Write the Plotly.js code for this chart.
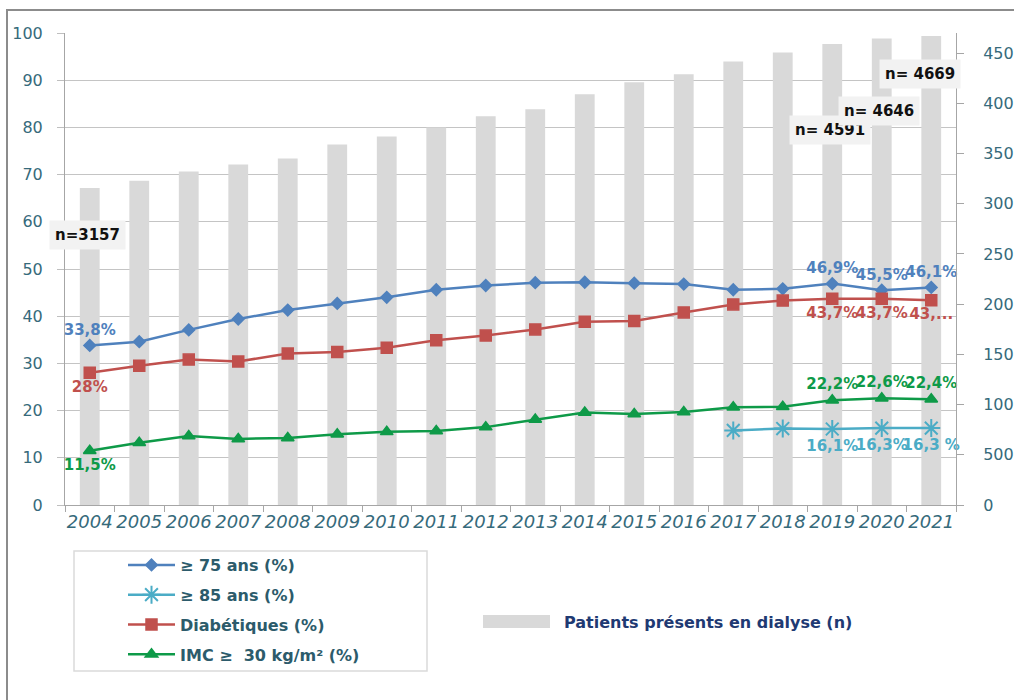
<!DOCTYPE html>
<html>
<head>
<meta charset="utf-8">
<script src="https://cdn.plot.ly/plotly-3.0.1.min.js"></script>
<style>
  html, body { margin: 0; padding: 0; background: #fff; }
  #chart { width: 1014px; height: 700px; }
</style>
</head>
<body>
<div id="chart"></div>
<script>
// dialysis cohort - share of elderly / diabetic / obese patients, bars = patients count
const years = ['2004', '2005', '2006', '2007', '2008', '2009', '2010', '2011', '2012',
               '2013', '2014', '2015', '2016', '2017', '2018', '2019', '2020', '2021'];

const patients = [3157, 3230, 3320, 3390, 3450, 3590, 3670, 3760, 3870,
                  3940, 4090, 4210, 4290, 4415, 4505, 4591, 4646, 4669];

const age75 = [33.8, 34.6, 37.1, 39.4, 41.3, 42.7, 44.0, 45.6, 46.5,
               47.1, 47.2, 47.0, 46.8, 45.6, 45.8, 46.9, 45.5, 46.1];
const age85 = [null, null, null, null, null, null, null, null, null,
               null, null, null, null, 15.8, 16.2, 16.1, 16.3, 16.3];
const diab = [28.0, 29.5, 30.8, 30.4, 32.1, 32.4, 33.3, 34.9, 35.9,
              37.2, 38.8, 39.0, 40.8, 42.5, 43.3, 43.7, 43.7, 43.4];
const imc = [11.5, 13.2, 14.6, 14.0, 14.2, 15.0, 15.5, 15.7, 16.5,
             18.1, 19.6, 19.3, 19.7, 20.7, 20.8, 22.2, 22.6, 22.4];

// point labels (only a few points are labelled)
const age75Labels = ['33,8%', '', '', '', '', '', '', '', '', '', '', '', '', '', '', '46,9%', '45,5%', '46,1%'];
const age85Labels = ['', '', '', '', '', '', '', '', '', '', '', '', '', '', '', '16,1%', '16,3%', '16,3 %'];
const diabLabels = ['28%', '', '', '', '', '', '', '', '', '', '', '', '', '', '', '43,7%', '43,7%', '43,...'];
const imcLabels = ['11,5%', '', '', '', '', '', '', '', '', '', '', '', '', '', '', '22,2%', '22,6%', '22,4%'];

const seriesNames = ['≥ 75 ans (%)', '≥ 85 ans (%)', 'Diabétiques (%)', 'IMC ≥  30 kg/m² (%)'];
const barName = 'Patients présents en dialyse (n)';

// count labels on bars: year, text, offsets
const nYears = ['2004', '2019', '2020', '2021'];
const nTexts = ['n=3157', 'n= 4591', 'n= 4646', 'n= 4669'];
const nShift = [[-2, -47], [-2, -86], [-3, -73], [-11, -38]];

const FONT = 'DejaVu Sans, Verdana, sans-serif';
const TICK_COLOR = '#366A7B';

function lineTrace(y, labels, name, color, symbol, size, textColor) {
    return {
        x: years,
        y: y,
        name: name,
        type: 'scatter',
        mode: 'lines+markers+text',
        yaxis: 'y2',
        legend: 'legend',
        legendgroup: name,
        line: { color: color, width: 2.5 },
        marker: { color: color, symbol: symbol, size: size, line: { color: color, width: 1.5 } },
        text: labels,
        textfont: { family: FONT, size: 15, color: textColor, weight: 'bold' },
        cliponaxis: false,
        hoverinfo: 'skip'
    };
}

const barTrace = {
    x: years,
    y: patients,
    name: barName,
    type: 'bar',
    yaxis: 'y',
    legend: 'legend2',
    marker: { color: '#D9D9D9' },
    hoverinfo: 'skip'
};

const t75 = lineTrace(age75, age75Labels, seriesNames[0], '#4F81BD', 'diamond', 9, '#4F81BD');
t75.textposition = 'top center';
const t85 = lineTrace(age85, age85Labels, seriesNames[1], '#4BACC6', 'asterisk-open', 15, '#4BACC6');
t85.marker.line.width = 2;
t85.textposition = 'bottom center';
const tDiab = lineTrace(diab, diabLabels, seriesNames[2], '#C0504D', 'square', 11, '#C0504D');
tDiab.textposition = 'bottom center';
const tImc = lineTrace(imc, imcLabels, seriesNames[3], '#0E9A48', 'triangle-up', 11, '#0E9A48');
tImc.textposition = imcLabels.map((s, i) => i === 0 ? 'bottom center' : 'top center');

// paper coordinates helpers (plot area: x 65..956, y 33..505)
const px = (X) => (X - 65) / 891;
const py = (Y) => (505 - Y) / 472;

// category axis -> annotations take the category index
const annotations = nYears.map((yr, i) => ({
    x: years.indexOf(yr),
    y: patients[years.indexOf(yr)],
    xref: 'x',
    yref: 'y',
    text: nTexts[i],
    showarrow: false,
    xshift: nShift[i][0],
    yshift: nShift[i][1],
    bgcolor: '#F2F2F2',
    borderpad: 5,
    font: { family: FONT, size: 15, color: '#111', weight: 'bold' }
}));

const layout = {
    width: 1014,
    height: 700,
    margin: { l: 65, r: 58, t: 33, b: 195 },
    paper_bgcolor: '#fff',
    plot_bgcolor: 'rgba(0,0,0,0)',
    font: { family: FONT, color: TICK_COLOR },
    bargap: 0.6,
    showlegend: true,
    xaxis: {
        type: 'category',
        range: [-0.5, years.length - 0.5],
        tickson: 'boundaries',
        ticks: 'outside',
        ticklen: 6,
        tickcolor: '#A6A6A6',
        showline: true,
        linecolor: '#A6A6A6',
        linewidth: 1,
        showgrid: false,
        tickangle: 0,
        tickfont: { family: FONT, size: 18, style: 'italic', color: TICK_COLOR }
    },
    yaxis: {
        side: 'right',
        range: [0, 4700],
        tickvals: [0, 500, 1000, 1500, 2000, 2500, 3000, 3500, 4000, 4500],
        ticks: 'outside',
        ticklen: 7,
        tickcolor: '#A6A6A6',
        showline: true,
        linecolor: '#A6A6A6',
        showgrid: false,
        zeroline: false,
        ticklabelstandoff: 16,
        tickfont: { family: FONT, size: 16, color: TICK_COLOR }
    },
    yaxis2: {
        side: 'left',
        overlaying: 'y',
        range: [0, 100],
        dtick: 10,
        ticks: 'outside',
        ticklen: 7,
        tickcolor: '#BFBFBF',
        showline: true,
        linecolor: '#A6A6A6',
        showgrid: true,
        gridcolor: '#C4C4C4',
        gridwidth: 1,
        zeroline: false,
        ticklabelstandoff: 11,
        tickfont: { family: FONT, size: 16, color: TICK_COLOR }
    },
    legend: {
        x: px(123),
        y: py(548),
        xanchor: 'left',
        yanchor: 'top',
        bgcolor: 'rgba(0,0,0,0)',
        borderwidth: 0,
        itemwidth: 47,
        tracegroupgap: 6,
        font: { family: FONT, size: 16, color: '#2C5B6B', weight: 'bold' }
    },
    legend2: {
        x: px(524),
        y: py(605),
        xanchor: 'left',
        yanchor: 'top',
        bgcolor: 'rgba(0,0,0,0)',
        borderwidth: 0,
        font: { family: FONT, size: 16, color: '#1F3A73', weight: 'bold' }
    },
    annotations: annotations,
    shapes: [
        // outer frame (only top and left edges visible)
        { type: 'rect', xref: 'paper', yref: 'paper', x0: px(7), x1: px(1030), y0: py(720), y1: py(10),
          line: { color: '#8C8C8C', width: 2 }, fillcolor: 'rgba(0,0,0,0)', layer: 'below' },
        // box around the line legend
        { type: 'rect', xref: 'paper', yref: 'paper', x0: px(74), x1: px(427), y0: py(671), y1: py(551),
          line: { color: '#DADADA', width: 1.5 }, fillcolor: 'rgba(0,0,0,0)', layer: 'below' },
        // wide swatch for the bar legend
        { type: 'rect', xref: 'paper', yref: 'paper', x0: px(483), x1: px(550), y0: py(628), y1: py(615),
          line: { width: 0 }, fillcolor: '#D9D9D9', layer: 'below' }
    ]
};

Plotly.newPlot('chart', [barTrace, t75, t85, tDiab, tImc], layout, { staticPlot: true });
</script>
</body>
</html>
